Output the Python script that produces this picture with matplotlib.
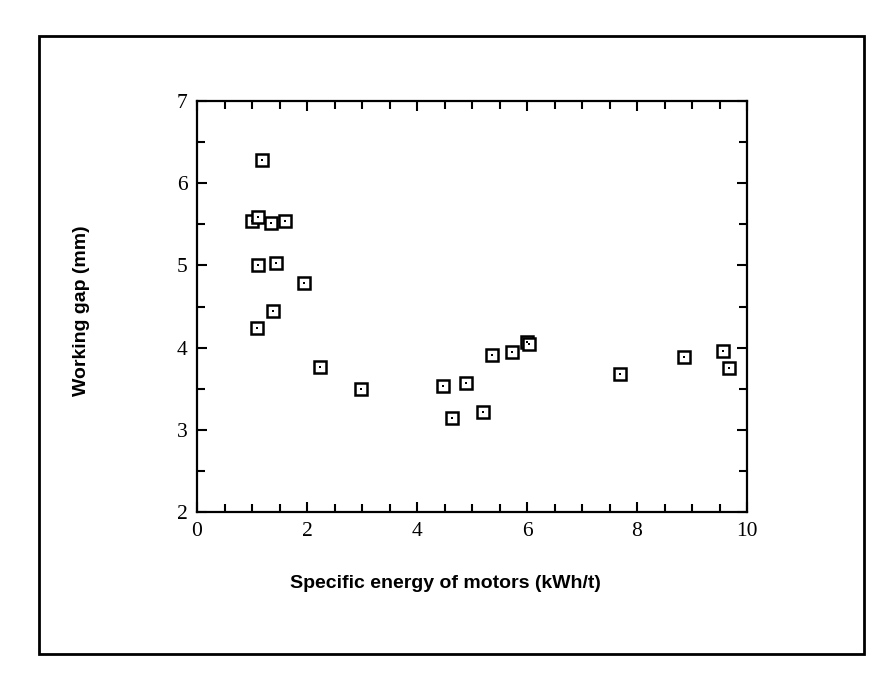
import matplotlib
matplotlib.use("Agg")
import matplotlib.pyplot as plt
from matplotlib.patches import Rectangle
from matplotlib.ticker import MultipleLocator

# specific energy of motors (kWh/t) vs working gap (mm)
energy = [1.19, 1.00, 1.11, 1.35, 1.60, 1.11, 1.44, 1.95, 1.38, 1.09,
          2.24, 2.98, 4.47, 4.64, 4.89, 5.20, 5.36, 5.73, 6.00, 6.04,
          7.69, 8.85, 9.56, 9.67]
gap = [6.28, 5.54, 5.59, 5.52, 5.54, 5.00, 5.03, 4.79, 4.45, 4.24,
       3.76, 3.50, 3.53, 3.14, 3.57, 3.22, 3.91, 3.95, 4.07, 4.04,
       3.68, 3.89, 3.96, 3.75]

fig = plt.figure(figsize=(8.92, 6.87), dpi=100)
ax = fig.add_axes([197 / 892, 1 - 512 / 687, 550 / 892, 411 / 687])

ax.plot(energy, gap, ls="none", marker="s", ms=8, mfc="white", mec="black", mew=1.8)
ax.plot(energy, gap, ls="none", marker="s", ms=1.6, mfc="black", mec="black", mew=0)

ax.set_xlim(0, 10)
ax.set_ylim(2, 7)
ax.xaxis.set_major_locator(MultipleLocator(2))
ax.xaxis.set_minor_locator(MultipleLocator(0.5))
ax.yaxis.set_major_locator(MultipleLocator(1))
ax.yaxis.set_minor_locator(MultipleLocator(0.5))
ax.tick_params(which="both", direction="in", top=True, right=True, width=1.5)
ax.tick_params(which="major", length=7, labelsize=15.5, pad=7)
ax.tick_params(which="minor", length=6)
for lab in ax.get_xticklabels() + ax.get_yticklabels():
    lab.set_fontfamily("Liberation Serif")
for s in ax.spines.values():
    s.set_linewidth(1.6)

ax.set_xlabel("Specific energy of motors (kWh/t)", fontsize=14, fontweight="bold",
              fontfamily="Liberation Sans", labelpad=25)
ax.set_ylabel("Working gap (mm)", fontsize=14, fontweight="bold",
              fontfamily="Liberation Sans", labelpad=62)
ax.xaxis.label.set_x(0.452)   # label sits a bit left of centre in the original
ax.yaxis.label.set_y(0.489)

# outer frame around the whole figure
fig.patches.append(Rectangle((39 / 892, 1 - 654 / 687), 825 / 892, 618 / 687,
                             transform=fig.transFigure, fill=False, ec="black", lw=2))

fig.savefig("out.png", dpi=100)
